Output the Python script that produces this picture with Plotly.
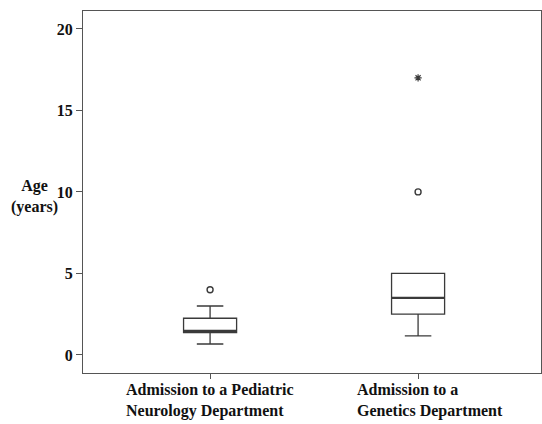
import plotly.graph_objects as go

# Data
categories = ["Admission to a Pediatric<br>Neurology Department",
              "Admission to a<br>Genetics Department"]
positions = [0, 1]
q1 = [1.37, 2.5]
median = [1.47, 3.5]
q3 = [2.25, 5.0]
lower_whisker = [0.67, 1.17]
upper_whisker = [3.0, 5.0]
outlier_x = [0, 1]
outlier_y = [4.0, 10.0]
extreme_x = [1]
extreme_y = [17.0]
y_ticks = [0, 5, 10, 15, 20]

BOX_W = 0.255
LINE = "#3a3a3a"
FONT = "Liberation Serif"

fig = go.Figure()
fig.add_trace(go.Box(
    x=positions, q1=q1, median=median, q3=q3,
    lowerfence=lower_whisker, upperfence=upper_whisker,
    width=BOX_W, whiskerwidth=0.5, boxpoints=False,
    fillcolor="white", line=dict(color=LINE, width=1.3),
    showlegend=False, hoverinfo="skip"))

# thicker median lines
mx, my = [], []
for p, m in zip(positions, median):
    mx += [p - BOX_W / 2, p + BOX_W / 2, None]
    my += [m, m, None]
fig.add_trace(go.Scatter(x=mx, y=my, mode="lines",
                         line=dict(color=LINE, width=2.2), showlegend=False))

fig.add_trace(go.Scatter(x=outlier_x, y=outlier_y, mode="markers",
                         marker=dict(symbol="circle-open", size=6,
                                     color=LINE, line=dict(width=1.4)),
                         showlegend=False))
fig.add_trace(go.Scatter(x=extreme_x, y=extreme_y, mode="markers",
                         marker=dict(symbol="asterisk-open", size=6,
                                     color=LINE, line=dict(width=1.2)),
                         showlegend=False))

axis_common = dict(showline=True, linecolor="#555", linewidth=1.3, mirror=True,
                   showgrid=False, zeroline=False, ticks="outside",
                   tickcolor="#555", tickwidth=1.3)

fig.update_xaxes(range=[-0.611, 1.591], tickvals=positions, ticklen=5,
                 showticklabels=False, **axis_common)
fig.update_yaxes(range=[-1.11, 21.1], tickvals=y_ticks, ticklen=6,
                 tickfont=dict(family=FONT, size=16, color="#111", weight="bold"),
                 **axis_common)

annotations = []
shifts = [0, 12]
for p, lab, s in zip(positions, categories, shifts):
    annotations.append(dict(x=p, y=0, xref="x", yref="paper", text=lab,
                            xanchor="center", yanchor="top", align="left",
                            xshift=s, yshift=-6, showarrow=False,
                            font=dict(family=FONT, size=16, color="#111",
                                      weight="bold")))
annotations.append(dict(x=-0.105, y=9.7, xref="paper", yref="y",
                        text="Age<br>(years)", xanchor="center", yanchor="middle",
                        align="center", showarrow=False,
                        font=dict(family=FONT, size=16, color="#111",
                                  weight="bold")))

fig.update_layout(width=542, height=424,
                  margin=dict(l=83, r=1, t=11, b=51),
                  plot_bgcolor="white", paper_bgcolor="white",
                  annotations=annotations)

fig.write_html("out.html", config={"displayModeBar": False},
               post_script="document.body.style.margin='0';"
                           "document.body.style.overflow='hidden';")
